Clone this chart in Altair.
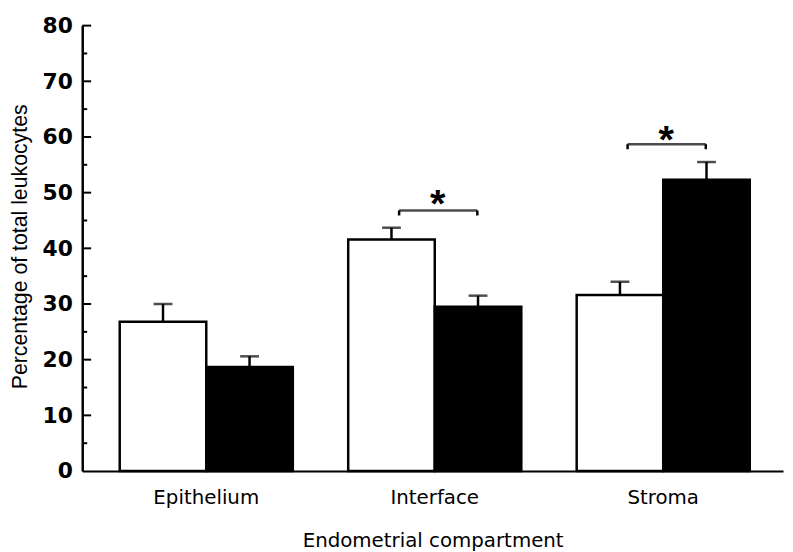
import altair as alt
import pandas as pd

categories = ["Epithelium", "Interface", "Stroma"]
groups = ["open", "filled"]
open_means = [26.8, 41.6, 31.6]
open_upper = [30.0, 43.7, 34.0]
filled_means = [18.7, 29.5, 52.3]
filled_upper = [20.6, 31.5, 55.5]

sig_categories = ["Interface", "Stroma"]
sig_bracket = [46.8, 58.7]
sig_star = [49.8, 61.3]

major_ticks = [10, 20, 30, 40, 50, 60, 70, 80]
minor_ticks = [5, 15, 25, 35, 45, 55, 65, 75]
y_labels = [0, 10, 20, 30, 40, 50, 60, 70, 80]

bars_df = pd.DataFrame({
    "compartment": categories * 2,
    "group": ["open"] * 3 + ["filled"] * 3,
    "mean": open_means + filled_means,
    "upper": open_upper + filled_upper,
})
sig_df = pd.DataFrame({
    "compartment": sig_categories,
    "bracket": sig_bracket,
    "low": [b - 0.9 for b in sig_bracket],
    "star": sig_star,
})
major_df = pd.DataFrame({"v": major_ticks})
minor_df = pd.DataFrame({"v": minor_ticks})

xscale = alt.Scale(domain=categories, paddingInner=0.2424, paddingOuter=0.1548, align=0.53)
xaxis = alt.Axis(
    title="Endometrial compartment", labelAngle=0, ticks=False, tickSize=0,
    labelPadding=17, labelFont="DejaVu Sans", labelFontSize=20, labelColor="black",
    titleFont="DejaVu Sans", titleFontSize=20, titleFontWeight="normal", titleColor="black",
    titleY=76, titleBaseline="alphabetic", domainColor="black", domainWidth=2, grid=False,
)
yscale = alt.Scale(domain=[0, 80], nice=False, zero=True)
yaxis = alt.Axis(
    values=y_labels, ticks=False, tickSize=0, labelPadding=10,
    labelFont="DejaVu Sans", labelFontWeight="bold", labelFontSize=22, labelColor="black",
    labelOverlap=False, grid=False, domainColor="black", domainWidth=2.5,
    title="Percentage of total leukocytes", titleFont="Liberation Sans", titleFontSize=21.5,
    titleFontWeight="normal", titleColor="black", titleX=-56, titleY=223,
    titleBaseline="alphabetic",
)

X = alt.X("compartment:N", scale=xscale, axis=xaxis, sort=categories)
XO = alt.XOffset("group:N", scale=alt.Scale(domain=groups, paddingInner=0, paddingOuter=0))

base = alt.Chart(bars_df)

bars = base.mark_bar(stroke="black", strokeWidth=2.5).encode(
    x=X, xOffset=XO,
    y=alt.Y("mean:Q", scale=yscale, axis=yaxis),
    fill=alt.Fill("group:N", scale=alt.Scale(domain=groups, range=["white", "black"]), legend=None),
)
err = base.mark_rule(color="black", strokeWidth=2.5).encode(
    x=X, xOffset=XO,
    y=alt.Y("mean:Q", scale=yscale, axis=yaxis), y2="upper:Q",
)
caps = base.mark_tick(color="black", size=19, thickness=2.5).encode(
    x=X, xOffset=XO,
    y=alt.Y("upper:Q", scale=yscale, axis=yaxis),
)

sig = alt.Chart(sig_df)
bracket = sig.mark_tick(color="black", size=79, thickness=2.5, xOffset=3.5).encode(
    x=X, y=alt.Y("bracket:Q", scale=yscale, axis=yaxis),
)
end_left = sig.mark_rule(color="black", strokeWidth=2.5, xOffset=-36).encode(
    x=X, y=alt.Y("bracket:Q", scale=yscale, axis=yaxis), y2="low:Q",
)
end_right = sig.mark_rule(color="black", strokeWidth=2.5, xOffset=43).encode(
    x=X, y=alt.Y("bracket:Q", scale=yscale, axis=yaxis), y2="low:Q",
)
stars = sig.mark_text(text="*", font="Liberation Sans", fontWeight="bold", fontSize=40,
                      baseline="alphabetic", dx=3, dy=23, color="black").encode(
    x=X, y=alt.Y("star:Q", scale=yscale, axis=yaxis),
)

major = alt.Chart(major_df).mark_rule(color="black", strokeWidth=2).encode(
    y=alt.Y("v:Q", scale=yscale, axis=yaxis), x=alt.value(0), x2=alt.value(9),
)
minor = alt.Chart(minor_df).mark_rule(color="black", strokeWidth=2).encode(
    y=alt.Y("v:Q", scale=yscale, axis=yaxis), x=alt.value(0), x2=alt.value(5),
)

chart = alt.layer(bars, err, caps, bracket, end_left, end_right, stars, major, minor).properties(
    width=708, height=450,
    padding={"left": 75, "top": 15, "right": 2, "bottom": 79},
    autosize=alt.AutoSizeParams(type="none"),
    background="white",
).configure_view(stroke=None)

chart.save("out.html", embed_options={"renderer": "svg", "actions": False})
